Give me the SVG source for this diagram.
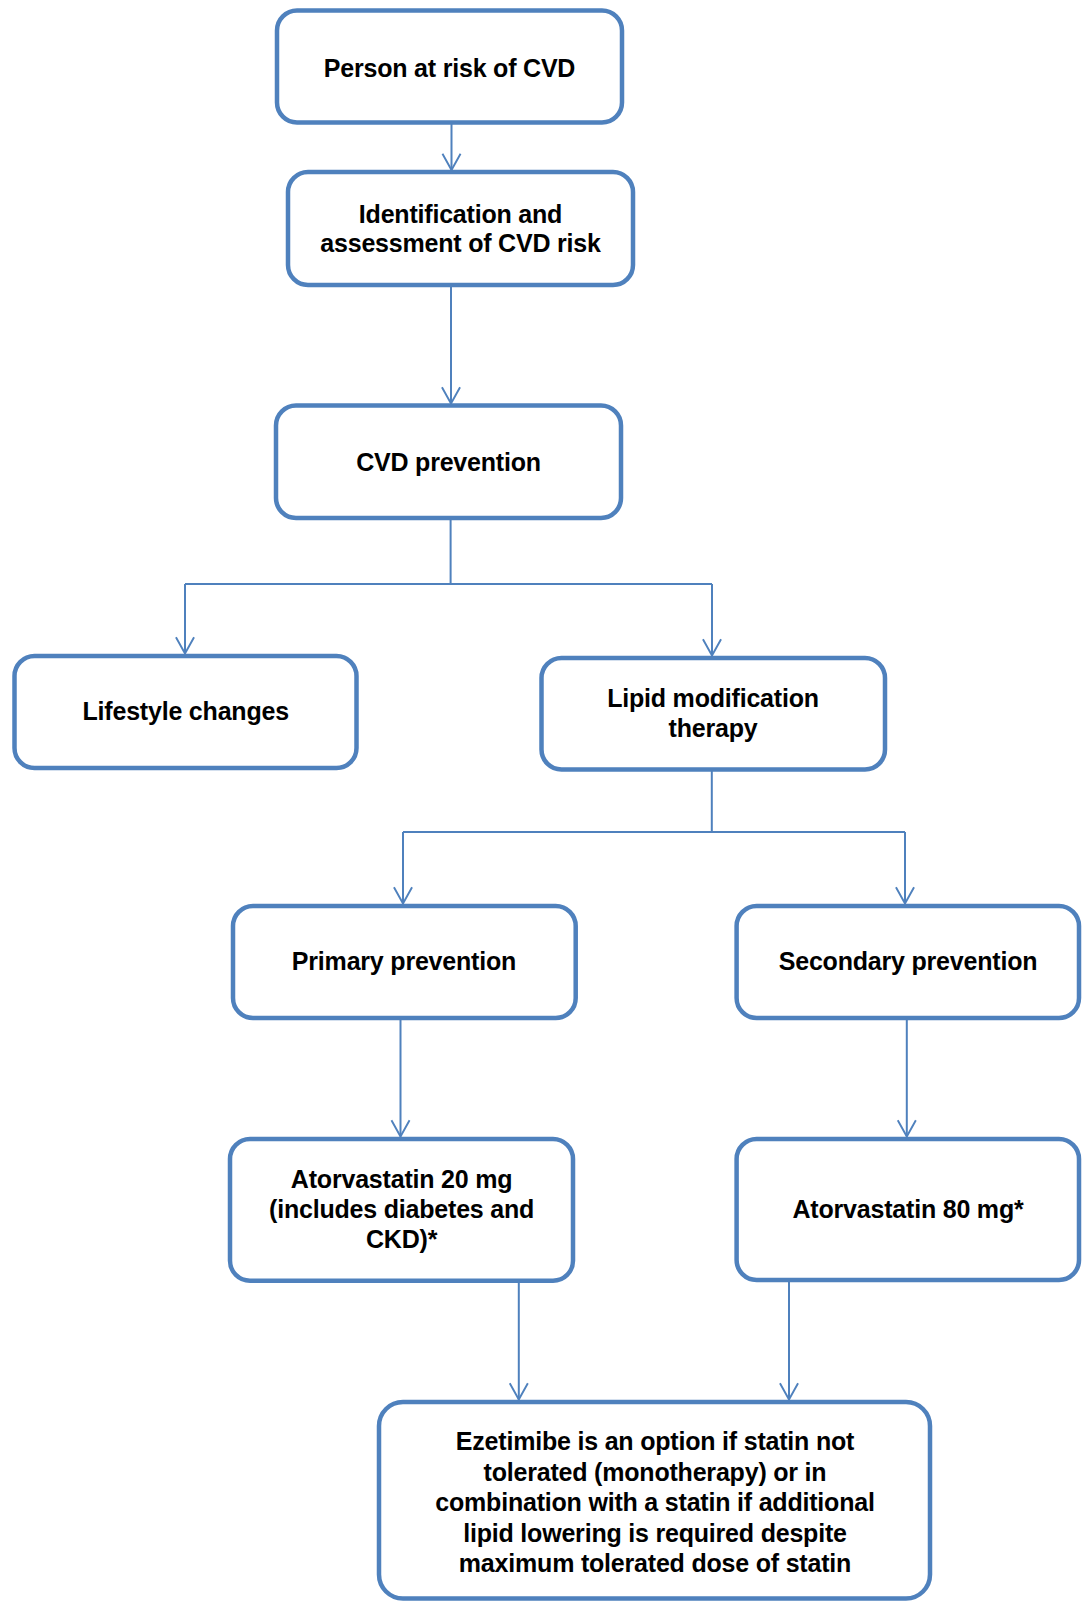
<svg xmlns="http://www.w3.org/2000/svg" width="1083" height="1602" viewBox="0 0 1083 1602">
<style>
.box{fill:#fff;stroke:#4F81BD;stroke-width:4.5}
.t{font-family:"Liberation Sans",Arial,sans-serif;font-weight:bold;font-size:25px;letter-spacing:-0.2px;fill:#000;text-anchor:middle}
.c{fill:none;stroke:#4F81BD;stroke-width:2}
</style>
<defs>
<marker id="ah" markerUnits="userSpaceOnUse" markerWidth="20" markerHeight="22" refX="17" refY="0" orient="auto" overflow="visible" viewBox="-2 -11 21 22">
<path d="M0,-9.5 L17,0 L0,9.5" fill="none" stroke="#4F81BD" stroke-width="2"/>
</marker>
</defs>
<rect width="1083" height="1602" fill="#fff"/>
<g id="connectors">
<line class="c" x1="451.5" y1="122" x2="451.5" y2="170" marker-end="url(#ah)"/>
<line class="c" x1="451" y1="285" x2="451" y2="403.5" marker-end="url(#ah)"/>
<line class="c" x1="450.6" y1="518" x2="450.6" y2="584"/>
<line class="c" x1="185" y1="584" x2="712" y2="584"/>
<line class="c" x1="185" y1="584" x2="185" y2="653.5" marker-end="url(#ah)"/>
<line class="c" x1="712" y1="584" x2="712" y2="655.5" marker-end="url(#ah)"/>
<line class="c" x1="711.8" y1="769.5" x2="711.8" y2="832"/>
<line class="c" x1="403" y1="832" x2="905" y2="832"/>
<line class="c" x1="403" y1="832" x2="403" y2="903.5" marker-end="url(#ah)"/>
<line class="c" x1="905" y1="832" x2="905" y2="903.5" marker-end="url(#ah)"/>
<line class="c" x1="400.5" y1="1018" x2="400.5" y2="1136.5" marker-end="url(#ah)"/>
<line class="c" x1="906.8" y1="1018" x2="906.8" y2="1136.5" marker-end="url(#ah)"/>
<line class="c" x1="518.8" y1="1280.7" x2="518.8" y2="1399.5" marker-end="url(#ah)"/>
<line class="c" x1="789" y1="1280" x2="789" y2="1399.5" marker-end="url(#ah)"/>
</g>
<g id="n1"><rect class="box" x="277" y="10.5" width="345" height="112" rx="20"/><text class="t" x="449.5" y="77.3">Person at risk of CVD</text></g>
<g id="n2"><rect class="box" x="288" y="172" width="345" height="113" rx="20"/><text class="t" x="460.5" y="222.7">Identification and</text><text class="t" x="460.5" y="251.7">assessment of CVD risk</text></g>
<g id="n3"><rect class="box" x="276" y="405.5" width="345" height="112.5" rx="20"/><text class="t" x="448.5" y="470.7">CVD prevention</text></g>
<g id="n4"><rect class="box" x="14.5" y="656" width="342" height="112" rx="20"/><text class="t" x="185.7" y="720">Lifestyle changes</text></g>
<g id="n5"><rect class="box" x="541.5" y="658" width="343.5" height="111.5" rx="20"/><text class="t" x="713" y="706.7">Lipid modification</text><text class="t" x="713" y="737.3">therapy</text></g>
<g id="n6"><rect class="box" x="233" y="906" width="342.7" height="112" rx="20"/><text class="t" x="404" y="970">Primary prevention</text></g>
<g id="n7"><rect class="box" x="736.6" y="906" width="342.4" height="112" rx="20"/><text class="t" x="908" y="970">Secondary prevention</text></g>
<g id="n8"><rect class="box" x="230" y="1139" width="343" height="141.7" rx="20"/><text class="t" x="401.6" y="1188.3">Atorvastatin 20 mg</text><text class="t" x="401.6" y="1218.3">(includes diabetes and</text><text class="t" x="401.6" y="1248.3">CKD)*</text></g>
<g id="n9"><rect class="box" x="736.6" y="1139" width="342.4" height="141" rx="20"/><text class="t" x="908" y="1218.3">Atorvastatin 80 mg*</text></g>
<g id="n10"><rect class="box" x="379" y="1402" width="551" height="196.5" rx="24"/><text class="t" x="655" y="1450">Ezetimibe is an option if statin not</text><text class="t" x="655" y="1480.5">tolerated (monotherapy) or in</text><text class="t" x="655" y="1511">combination with a statin if additional</text><text class="t" x="655" y="1541.5">lipid lowering is required despite</text><text class="t" x="655" y="1572">maximum tolerated dose of statin</text></g>
</svg>
